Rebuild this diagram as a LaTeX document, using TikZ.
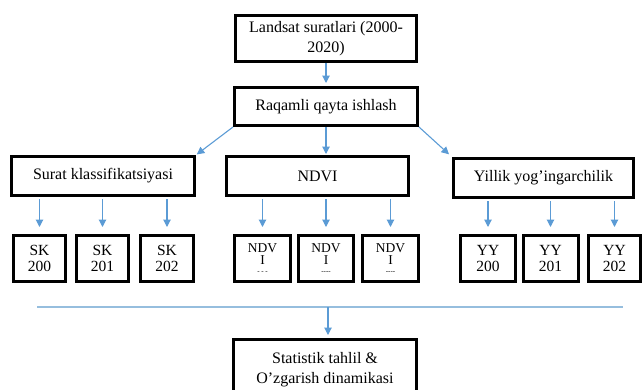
\documentclass[tikz,border=0pt]{standalone}
\usepackage{fontspec}
\setmainfont{Liberation Serif}
\usetikzlibrary{arrows.meta}
\definecolor{arrblue}{RGB}{91,155,213}
\definecolor{lineblue}{RGB}{150,190,222}
\tikzset{
  bigbox/.style={draw, line width=3pt, inner sep=0pt, align=center,
    minimum width=183pt, minimum height=39pt, font=\fontsize{16}{20}\selectfont},
  smallbox/.style={draw, line width=3pt, inner sep=0pt, align=center,
    minimum width=52.5pt, minimum height=46pt, font=\fontsize{15.5}{16}\selectfont},
  ndvbox/.style={smallbox, minimum width=55.5pt, font=\fontsize{13.5}{12}\selectfont},
  arr/.style={arrblue, line width=1.1pt, -{Triangle[width=7.5pt,length=7.5pt]}},
}
\begin{document}
\begin{tikzpicture}[x=1pt,y=-1pt]
        \useasboundingbox (0,0) rectangle (643,389);
        % 上部两个框
        \node[bigbox, minimum width=181pt, minimum height=46pt] (land) at (326,38.5) {Landsat suratlari (2000-\\2020)};
        \node[bigbox, minimum height=38pt] (raq) at (326,106.5) {Raqamli qayta ishlash};
        \draw[arr, shorten >=3pt] (land.south) -- (raq.north);

        % 三个分支
        \node[bigbox] (surat) at (103,176) {Surat klassifikatsiyasi};
        \node[bigbox, minimum width=182pt] (ndvi) at (317.5,176) {NDVI};
        \node[bigbox, minimum width=180pt] (yil) at (543.5,178) {Yillik yog’ingarchilik};
        \draw[arr, shorten >=1pt] (raq.south west) -- (surat.north east);
        \draw[arr, shorten >=4pt] (raq.south east) -- (yil.north west);
        \draw[arr, shorten >=1pt] (raq.south) -- (raq.south |- ndvi.north);

        % 小框
        \node[smallbox] (sk1) at (39.5,258.5) {SK\\200};
        \node[smallbox] (sk2) at (102.5,258.5) {SK\\201};
        \node[smallbox] (sk3) at (167,258.5) {SK\\202};
        \node[ndvbox] (nd1) at (262.5,258.5) {NDV\\I\\[-3pt]{\scriptsize - - -}};
        \node[ndvbox] (nd2) at (326,258.5) {NDV\\I\\[-3pt]{\scriptsize -{}-{}-{}-}};
        \node[ndvbox] (nd3) at (390.5,258.5) {NDV\\I\\[-3pt]{\scriptsize -{}-{}-{}-}};
        \node[smallbox, minimum width=55pt] (yy1) at (488,258.5) {YY\\200};
        \node[smallbox, minimum width=55pt] (yy2) at (550.5,258.5) {YY\\201};
        \node[smallbox, minimum width=52pt] (yy3) at (614.5,258.5) {YY\\202};
        \foreach \b/\t in {surat/sk1, surat/sk2, surat/sk3, ndvi/nd1, ndvi/nd2, ndvi/nd3, yil/yy1, yil/yy2, yil/yy3}
          \draw[arr, shorten <=2pt, shorten >=7pt] (\b.south -| \t) -- (\t.north);

        % 汇总线
        \coordinate (l_1) at (37,307);
        \coordinate (l_2) at (623,307);
        \coordinate (l_m) at (328,307);
        \draw[lineblue, line width=1.2pt] (l_1) -- (l_2);
        \node[bigbox, minimum width=183pt, minimum height=60pt] (stat) at (325,369.5) {Statistik tahlil \&\\O’zgarish dinamikasi};
        \draw[arr, shorten >=3pt] (l_m) -- (l_m |- stat.north);
\end{tikzpicture}
\end{document}
